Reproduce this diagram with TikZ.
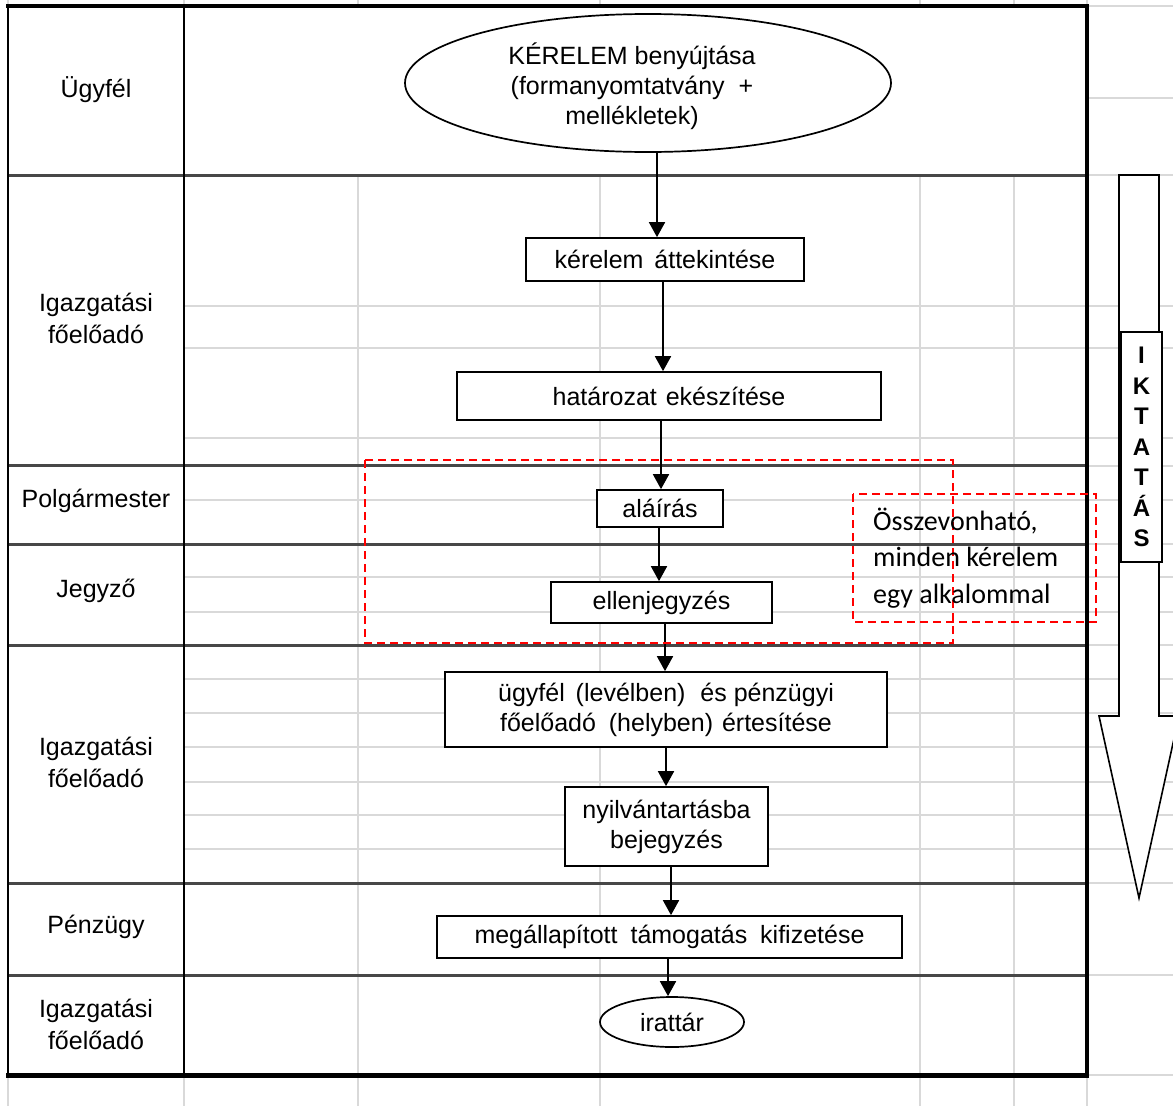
\documentclass[tikz,border=0pt]{standalone}
\usepackage{fontspec}
\setmainfont{Liberation Sans}
\newfontfamily\calib{Carlito}
\usetikzlibrary{arrows.meta,shapes.geometric}
\begin{document}
\begin{tikzpicture}[x=1pt,y=-1pt,
  grid/.style={draw=black!15, line width=2pt},
  lanesep/.style={draw=black!72, line width=3pt},
  box/.style={draw, line width=1.7pt, fill=white, rectangle, inner sep=0pt, align=center, font=\fontsize{25}{30}\selectfont},
  oval/.style={draw, ellipse, line width=1.7pt, fill=white, inner sep=0pt},
  arr/.style={line width=1.8pt, -{Triangle[length=15pt,width=16pt]}},
  redbox/.style={draw=red, line width=1.8pt, dash pattern=on 8pt off 5pt},
  lane/.style={align=center, font=\fontsize{25}{32}\selectfont},
  txt/.style={align=center, inner sep=0pt, font=\fontsize{25}{30}\selectfont}
]
\useasboundingbox (0,0) rectangle (1173,1106);
\clip (0,0) rectangle (1173,1106);
\fill[white] (0,0) rectangle (1173,1106);

% light spreadsheet grid
\foreach \x in {8,184,1087} \draw[grid] (\x,0) -- (\x,1106);
\foreach \x in {358,600,920,1014} {
  \draw[grid] (\x,0) -- (\x,6);
  \draw[grid] (\x,175) -- (\x,1106);
}
\foreach \y in {6,98,175,306,348,438,466,500,544,577,612,645,679,713,747,782,815,849,883,975,1075}
  \draw[grid] (1087,\y) -- (1173,\y);
\foreach \y in {306,348,438,500,577,612,679,713,747,782,815,849}
  \draw[grid] (184,\y) -- (1087,\y);

% lane separators
\foreach \y in {175,465,544,645,883,975}
  \draw[lanesep] (8,\y) -- (1087,\y);

% frame
\draw[line width=2pt] (8,6) -- (8,1075);
\draw[line width=2pt] (184,6) -- (184,1075);
\draw[line width=4pt] (6,6) -- (1089,6);
\draw[line width=4pt] (1087,6) -- (1087,1077);
\draw[line width=5pt] (6,1075.5) -- (1089,1075.5);

% lane labels
\node[lane] (l1) at (96,90) {Ügyfél};
\node[lane] (l2) at (96,318) {Igazgatási\\főelőadó};
\node[lane] (l3) at (96,501) {Polgármester};
\node[lane] (l4) at (96,591) {Jegyző};
\node[lane] (l5) at (96,762) {Igazgatási\\főelőadó};
\node[lane] (l6) at (96,927) {Pénzügy};
\node[lane] (l7) at (96,1024) {Igazgatási\\főelőadó};

% flow nodes
\node[oval, minimum width=486pt, minimum height=138pt] (e1) at (648,83) {};
\node[txt] (e1t) at (632,86) {KÉRELEM benyújtása\\(formanyomtatvány\hspace{14pt}+\\mellékletek)};
\node[box, minimum width=278pt, minimum height=43pt] (k) at (665,259.5) {kérelem\hspace{4pt} áttekintése};
\node[box, minimum width=424pt, minimum height=48pt] (h) at (669,396) {határozat\hspace{2pt} ekészítése};
\node[box, minimum width=126pt, minimum height=37pt] (al) at (660,508.5) {\raisebox{-2pt}{aláírás}};
\node[box, minimum width=221pt, minimum height=41pt] (el) at (661.5,602.5) {\raisebox{-1pt}{ellenjegyzés}};
\node[box, minimum width=442pt, minimum height=75pt] (u) at (666,709.5) {ügyfél\hspace{4pt} (levélben)\hspace{8pt} és pénzügyi\\főelőadó\hspace{6pt} (helyben)\hspace{2pt} értesítése};
\node[box, minimum width=203pt, minimum height=79pt] (ny) at (666.5,826.5) {nyilvántartásba\\bejegyzés};
\node[box, minimum width=465pt, minimum height=42pt] (m) at (669.5,937) {megállapított\hspace{6pt} támogatás\hspace{6pt} kifizetése};
\node[oval, minimum width=144pt, minimum height=50pt, font=\fontsize{25}{30}\selectfont] (ir) at (672,1022) {irattár};

% connectors
\draw[arr] ([xshift=-8pt]k.north |- e1.south) -- ([xshift=-8pt]k.north);
\draw[arr] ([xshift=-2pt]k.south) -- ([xshift=-2pt]k.south |- h.north);
\draw[arr] ([xshift=1pt]al.north |- h.south) -- ([xshift=1pt]al.north);
\draw[arr] ([xshift=-1pt]al.south) -- ([xshift=-1pt]al.south |- el.north);
\draw[arr] ([xshift=3.5pt]el.south) -- ([xshift=3.5pt]el.south |- u.north);
\draw[arr] (u.south) -- (u.south |- ny.north);
\draw[arr] ([xshift=4.5pt]ny.south) -- ([xshift=4.5pt]ny.south |- m.north);
\draw[arr] ([xshift=-1.5pt]m.south) -- ([xshift=-1.5pt]m.south |- ir.north);

% red dashed groupings
\draw[redbox] (365,460) rectangle (953,643);
\draw[redbox] (853,494) rectangle (1096,622);
\node[anchor=west, align=left, inner sep=0pt, font=\calib\fontsize{28}{36.5}\selectfont] (note) at (873,558) {Összevonható,\\minden kérelem\\egy alkalommal};

% IKTATÁS arrow
\draw[line width=1.6pt, fill=white] (1119,175) -- (1159,175) -- (1159,716) -- (1179,716) -- (1139,898) -- (1099,716) -- (1119,716) -- cycle;
\node[draw, line width=1.6pt, fill=white, minimum width=41pt, minimum height=230pt, inner sep=0pt, align=center, font=\bfseries\fontsize{24}{30.5}\selectfont] (ik) at (1141.5,447) {I\\K\\T\\A\\T\\Á\\S};
\end{tikzpicture}
\end{document}
